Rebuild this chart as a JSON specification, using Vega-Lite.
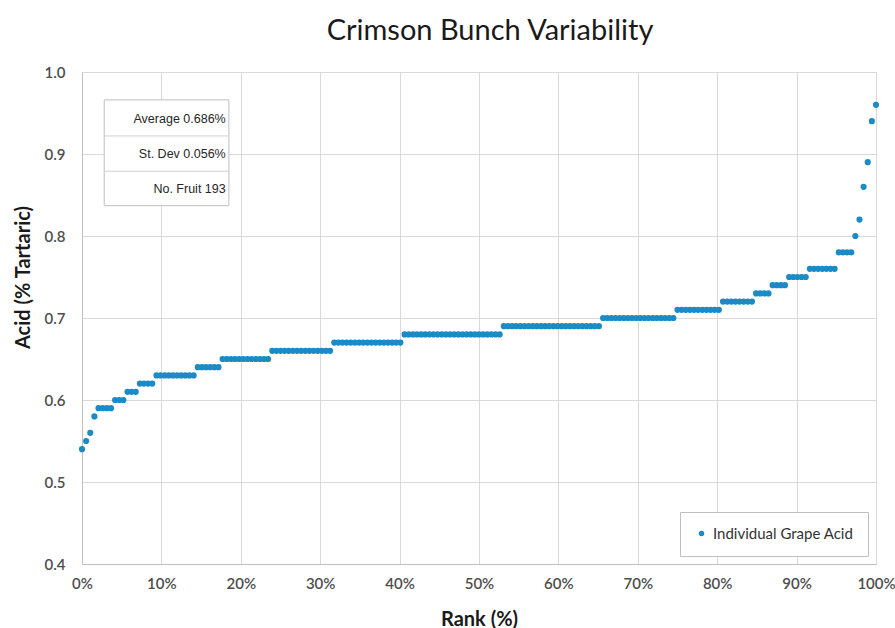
{
  "$schema": "https://vega.github.io/schema/vega-lite/v6.json",
  "autosize": {"type": "none"},
  "width": 794,
  "height": 492,
  "padding": {"left": 82, "top": 72, "right": 19, "bottom": 64},
  "background": "#ffffff",
  "title": {"text": "Crimson Bunch Variability", "font": "Lato", "fontSize": 29, "fontWeight": "normal", "color": "#1a1a1a", "anchor": "middle", "frame": "group", "offset": 19, "dx": 11},
  "config": {
    "view": {"stroke": null},
    "axis": {"labelFont": "Lato", "labelFontSize": 15, "labelFontWeight": 600, "labelColor": "#4d4d4d", "titleFont": "Lato", "titleFontSize": 20, "titleFontWeight": "bold", "titleColor": "#1a1a1a", "gridColor": "#d9d9d9", "domainColor": "#bfbfbf", "ticks": false, "labelFlush": false}
  },
  "layer": [
    {
      "data": {"values": [
        {"r":0,"a":0.54},{"r":0.52,"a":0.55},{"r":1.04,"a":0.56},{"r":1.56,"a":0.58},
        {"r":2.08,"a":0.59},{"r":2.6,"a":0.59},{"r":3.13,"a":0.59},{"r":3.65,"a":0.59},
        {"r":4.17,"a":0.6},{"r":4.69,"a":0.6},{"r":5.21,"a":0.6},
        {"r":5.73,"a":0.61},{"r":6.25,"a":0.61},{"r":6.77,"a":0.61},
        {"r":7.29,"a":0.62},{"r":7.81,"a":0.62},{"r":8.33,"a":0.62},{"r":8.85,"a":0.62},
        {"r":9.38,"a":0.63},{"r":9.9,"a":0.63},{"r":10.42,"a":0.63},{"r":10.94,"a":0.63},{"r":11.46,"a":0.63},{"r":11.98,"a":0.63},{"r":12.5,"a":0.63},{"r":13.02,"a":0.63},{"r":13.54,"a":0.63},{"r":14.06,"a":0.63},
        {"r":14.58,"a":0.64},{"r":15.1,"a":0.64},{"r":15.63,"a":0.64},{"r":16.15,"a":0.64},{"r":16.67,"a":0.64},{"r":17.19,"a":0.64},
        {"r":17.71,"a":0.65},{"r":18.23,"a":0.65},{"r":18.75,"a":0.65},{"r":19.27,"a":0.65},{"r":19.79,"a":0.65},{"r":20.31,"a":0.65},{"r":20.83,"a":0.65},{"r":21.35,"a":0.65},{"r":21.88,"a":0.65},{"r":22.4,"a":0.65},{"r":22.92,"a":0.65},{"r":23.44,"a":0.65},
        {"r":23.96,"a":0.66},{"r":24.48,"a":0.66},{"r":25,"a":0.66},{"r":25.52,"a":0.66},{"r":26.04,"a":0.66},{"r":26.56,"a":0.66},{"r":27.08,"a":0.66},{"r":27.6,"a":0.66},{"r":28.13,"a":0.66},{"r":28.65,"a":0.66},{"r":29.17,"a":0.66},{"r":29.69,"a":0.66},{"r":30.21,"a":0.66},{"r":30.73,"a":0.66},{"r":31.25,"a":0.66},
        {"r":31.77,"a":0.67},{"r":32.29,"a":0.67},{"r":32.81,"a":0.67},{"r":33.33,"a":0.67},{"r":33.85,"a":0.67},{"r":34.38,"a":0.67},{"r":34.9,"a":0.67},{"r":35.42,"a":0.67},{"r":35.94,"a":0.67},{"r":36.46,"a":0.67},{"r":36.98,"a":0.67},{"r":37.5,"a":0.67},{"r":38.02,"a":0.67},{"r":38.54,"a":0.67},{"r":39.06,"a":0.67},{"r":39.58,"a":0.67},{"r":40.1,"a":0.67},
        {"r":40.63,"a":0.68},{"r":41.15,"a":0.68},{"r":41.67,"a":0.68},{"r":42.19,"a":0.68},{"r":42.71,"a":0.68},{"r":43.23,"a":0.68},{"r":43.75,"a":0.68},{"r":44.27,"a":0.68},{"r":44.79,"a":0.68},{"r":45.31,"a":0.68},{"r":45.83,"a":0.68},{"r":46.35,"a":0.68},{"r":46.88,"a":0.68},{"r":47.4,"a":0.68},{"r":47.92,"a":0.68},{"r":48.44,"a":0.68},{"r":48.96,"a":0.68},{"r":49.48,"a":0.68},{"r":50,"a":0.68},{"r":50.52,"a":0.68},{"r":51.04,"a":0.68},{"r":51.56,"a":0.68},{"r":52.08,"a":0.68},{"r":52.6,"a":0.68},
        {"r":53.13,"a":0.69},{"r":53.65,"a":0.69},{"r":54.17,"a":0.69},{"r":54.69,"a":0.69},{"r":55.21,"a":0.69},{"r":55.73,"a":0.69},{"r":56.25,"a":0.69},{"r":56.77,"a":0.69},{"r":57.29,"a":0.69},{"r":57.81,"a":0.69},{"r":58.33,"a":0.69},{"r":58.85,"a":0.69},{"r":59.38,"a":0.69},{"r":59.9,"a":0.69},{"r":60.42,"a":0.69},{"r":60.94,"a":0.69},{"r":61.46,"a":0.69},{"r":61.98,"a":0.69},{"r":62.5,"a":0.69},{"r":63.02,"a":0.69},{"r":63.54,"a":0.69},{"r":64.06,"a":0.69},{"r":64.58,"a":0.69},{"r":65.1,"a":0.69},
        {"r":65.63,"a":0.7},{"r":66.15,"a":0.7},{"r":66.67,"a":0.7},{"r":67.19,"a":0.7},{"r":67.71,"a":0.7},{"r":68.23,"a":0.7},{"r":68.75,"a":0.7},{"r":69.27,"a":0.7},{"r":69.79,"a":0.7},{"r":70.31,"a":0.7},{"r":70.83,"a":0.7},{"r":71.35,"a":0.7},{"r":71.88,"a":0.7},{"r":72.4,"a":0.7},{"r":72.92,"a":0.7},{"r":73.44,"a":0.7},{"r":73.96,"a":0.7},{"r":74.48,"a":0.7},
        {"r":75,"a":0.71},{"r":75.52,"a":0.71},{"r":76.04,"a":0.71},{"r":76.56,"a":0.71},{"r":77.08,"a":0.71},{"r":77.6,"a":0.71},{"r":78.13,"a":0.71},{"r":78.65,"a":0.71},{"r":79.17,"a":0.71},{"r":79.69,"a":0.71},{"r":80.21,"a":0.71},
        {"r":80.73,"a":0.72},{"r":81.25,"a":0.72},{"r":81.77,"a":0.72},{"r":82.29,"a":0.72},{"r":82.81,"a":0.72},{"r":83.33,"a":0.72},{"r":83.85,"a":0.72},{"r":84.38,"a":0.72},
        {"r":84.9,"a":0.73},{"r":85.42,"a":0.73},{"r":85.94,"a":0.73},{"r":86.46,"a":0.73},
        {"r":86.98,"a":0.74},{"r":87.5,"a":0.74},{"r":88.02,"a":0.74},{"r":88.54,"a":0.74},
        {"r":89.06,"a":0.75},{"r":89.58,"a":0.75},{"r":90.1,"a":0.75},{"r":90.63,"a":0.75},{"r":91.15,"a":0.75},
        {"r":91.67,"a":0.76},{"r":92.19,"a":0.76},{"r":92.71,"a":0.76},{"r":93.23,"a":0.76},{"r":93.75,"a":0.76},{"r":94.27,"a":0.76},{"r":94.79,"a":0.76},
        {"r":95.31,"a":0.78},{"r":95.83,"a":0.78},{"r":96.35,"a":0.78},{"r":96.88,"a":0.78},
        {"r":97.4,"a":0.8},{"r":97.92,"a":0.82},{"r":98.44,"a":0.86},{"r":98.96,"a":0.89},{"r":99.48,"a":0.94},{"r":100,"a":0.96}
      ]},
      "mark": {"type": "point", "filled": true, "size": 38, "opacity": 1, "shape": "circle"},
      "encoding": {
        "x": {"field": "r", "type": "quantitative", "scale": {"domain": [0, 100], "nice": false}, "axis": {"values": [0,10,20,30,40,50,60,70,80,90,100], "labelExpr": "datum.value + '%'", "title": "Rank (%)", "labelPadding": 12, "titlePadding": 18}},
        "y": {"field": "a", "type": "quantitative", "scale": {"domain": [0.4, 1.0], "nice": false, "zero": false}, "axis": {"values": [0.4,0.5,0.6,0.7,0.8,0.9,1.0], "format": ".1f", "title": "Acid (% Tartaric)", "labelPadding": 17, "titlePadding": 11, "titleY": 205}},
        "color": {"datum": "Individual Grape Acid", "scale": {"range": ["#1b8bc6"]}, "legend": {"title": null, "orient": "bottom-right", "offset": 8, "padding": 14, "strokeColor": "#bfbfbf", "fillColor": "#ffffff", "labelFont": "Lato", "labelFontSize": 15, "labelColor": "#333333", "symbolSize": 30, "symbolType": "circle", "labelLimit": 300}}
      }
    },
    {
      "data": {"values": [{}]},
      "mark": {"type": "rect", "fill": "#ffffff", "stroke": "#bfbfbf", "strokeWidth": 1},
      "encoding": {"x": {"datum": 2.8}, "x2": {"datum": 18.5}, "y": {"datum": 0.966}, "y2": {"datum": 0.837}}
    },
    {
      "data": {"values": [{}]},
      "mark": {"type": "rule", "stroke": "#d0d0d0", "strokeWidth": 1},
      "encoding": {"x": {"datum": 2.8}, "x2": {"datum": 18.5}, "y": {"datum": 0.922}}
    },
    {
      "data": {"values": [{}]},
      "mark": {"type": "rule", "stroke": "#d0d0d0", "strokeWidth": 1},
      "encoding": {"x": {"datum": 2.8}, "x2": {"datum": 18.5}, "y": {"datum": 0.879}}
    },
    {
      "data": {"values": [{"label": "Average 0.686%"}]},
      "mark": {"type": "text", "align": "right", "baseline": "middle", "font": "Liberation Sans", "fontSize": 12.5, "color": "#262626"},
      "encoding": {"x": {"datum": 18.1}, "y": {"datum": 0.943}, "text": {"field": "label"}}
    },
    {
      "data": {"values": [{"label": "St. Dev 0.056%"}]},
      "mark": {"type": "text", "align": "right", "baseline": "middle", "font": "Liberation Sans", "fontSize": 12.5, "color": "#262626"},
      "encoding": {"x": {"datum": 18.1}, "y": {"datum": 0.9}, "text": {"field": "label"}}
    },
    {
      "data": {"values": [{"label": "No. Fruit 193"}]},
      "mark": {"type": "text", "align": "right", "baseline": "middle", "font": "Liberation Sans", "fontSize": 12.5, "color": "#262626"},
      "encoding": {"x": {"datum": 18.1}, "y": {"datum": 0.857}, "text": {"field": "label"}}
    }
  ]
}
